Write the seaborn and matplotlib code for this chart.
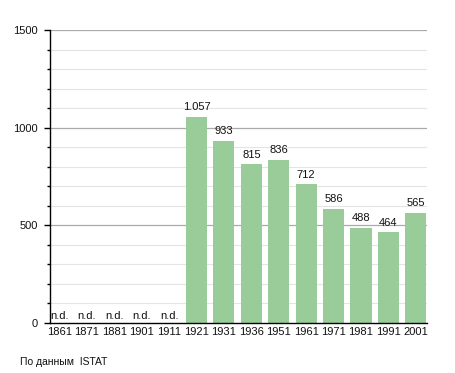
import matplotlib
matplotlib.use("Agg")
import matplotlib.pyplot as plt
import seaborn as sns
import numpy as np
import pandas as pd
from matplotlib.ticker import MultipleLocator

years = ["1861", "1871", "1881", "1901", "1911", "1921", "1931", "1936", "1951", "1961", "1971", "1981", "1991", "2001"]
population = [np.nan, np.nan, np.nan, np.nan, np.nan, 1057, 933, 815, 836, 712, 586, 488, 464, 565]
labels = ["n.d.", "n.d.", "n.d.", "n.d.", "n.d.", "1.057", "933", "815", "836", "712", "586", "488", "464", "565"]
yticks = [0, 500, 1000, 1500]
source = "По данным  ISTAT"

sns.set_style("white")
plt.rcParams['font.family'] = ['Liberation Sans', 'DejaVu Sans']

fig = plt.figure(figsize=(4.55, 3.73), dpi=100)
ax = fig.add_axes([50 / 455, 50 / 373, 377 / 455, 293 / 373])

df = pd.DataFrame({"year": years, "pop": population})
sns.barplot(data=df, x="year", y="pop", color="#99CC99", saturation=1, width=0.77,
            linewidth=0, ax=ax, zorder=3)

ax.set_ylim(0, 1500)
ax.set_xlim(-0.347, 13.41)
ax.set_yticks(yticks)
ax.yaxis.set_minor_locator(MultipleLocator(100))
ax.grid(False)
for v in range(100, 1501, 100):
    if v % 500 == 0:
        ax.axhline(v, color="#aaaaaa", lw=0.9, zorder=1)
    else:
        ax.axhline(v, color="#e4e4e4", lw=0.8, zorder=1)

for s in ["top", "right"]:
    ax.spines[s].set_visible(False)
for s in ["left", "bottom"]:
    ax.spines[s].set_color("black")
    ax.spines[s].set_linewidth(1.0)
    ax.spines[s].set_zorder(5)

ax.tick_params(axis="y", which="major", length=4, width=1, color="black", labelsize=8,
               pad=4.6, left=True, labelcolor="#111111")
ax.tick_params(axis="y", which="minor", length=2.5, width=1, color="black", left=True)
ax.tick_params(axis="x", length=0, labelsize=8, pad=3, labelcolor="#111111")
ax.set_xlabel("")
ax.set_ylabel("")

for i, (v, lab) in enumerate(zip(population, labels)):
    if np.isnan(v):
        ax.text(i, 12, lab, ha="center", va="bottom", fontsize=8, color="#111111", zorder=4)
    else:
        ax.text(i, v + 22, lab, ha="center", va="bottom", fontsize=8, color="#111111", zorder=4)

fig.text(20 / 455, 1 - 362 / 373, source, fontsize=7.5, ha="left", va="center", color="#111111")

fig.savefig("out.png", dpi=100)
